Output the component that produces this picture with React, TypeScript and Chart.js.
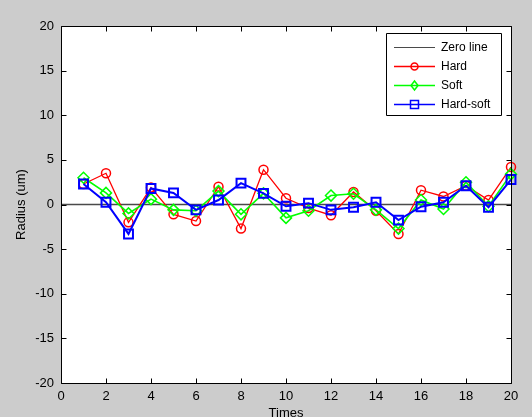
import React, { useEffect, useRef } from "react";
import { Chart, registerables } from "chart.js";

Chart.register(...registerables);

const times = [1, 2, 3, 4, 5, 6, 7, 8, 9, 10, 11, 12, 13, 14, 15, 16, 17, 18, 19, 20];
const hard = [2.3, 3.5, -2.0, 1.9, -1.1, -1.85, 2.0, -2.7, 3.9, 0.7, -0.4, -1.2, 1.4, -0.7, -3.3, 1.6, 0.9, 2.1, 0.5, 4.2];
const soft = [3.0, 1.3, -1.0, 0.6, -0.6, -0.7, 1.5, -1.1, 1.25, -1.5, -0.7, 1.0, 1.2, -0.6, -2.7, 0.5, -0.5, 2.5, -0.2, 3.4];
const hardSoft = [2.3, 0.25, -3.3, 1.8, 1.3, -0.6, 0.5, 2.4, 1.25, -0.2, 0.15, -0.6, -0.3, 0.25, -1.75, -0.25, 0.25, 2.1, -0.3, 2.8];
const zeroLineX = [0, 20];
const xTicks = [0, 2, 4, 6, 8, 10, 12, 14, 16, 18, 20];
const yTicks = [-20, -15, -10, -5, 0, 5, 10, 15, 20];
const legendLabels = ["Zero line", "Hard", "Soft", "Hard-soft"];

const FONT = "'Liberation Sans', Arial, sans-serif";

function drawMarker(ctx: CanvasRenderingContext2D, style: string, x: number, y: number) {
  ctx.beginPath();
  if (style === "circle") {
    ctx.arc(x, y, 3.5, 0, Math.PI * 2);
  } else if (style === "rectRot") {
    ctx.moveTo(x, y - 4.5);
    ctx.lineTo(x + 3.5, y);
    ctx.lineTo(x, y + 4.5);
    ctx.lineTo(x - 3.5, y);
    ctx.closePath();
  } else if (style === "rect") {
    ctx.rect(x - 4, y - 4, 8, 8);
  }
  ctx.stroke();
}

const boxPlugin = {
  id: "matlabBox",
  beforeDraw(chart: any) {
    const { ctx, chartArea: a, width, height } = chart;
    ctx.save();
    ctx.fillStyle = "#cccccc";
    ctx.fillRect(0, 0, width, height);
    ctx.fillStyle = "#ffffff";
    ctx.fillRect(a.left, a.top, a.right - a.left, a.bottom - a.top);
    ctx.restore();
  },
  afterDatasetsDraw(chart: any) {
    const { ctx, chartArea: a, scales } = chart;
    ctx.save();
    ctx.strokeStyle = "#000";
    ctx.lineWidth = 1;
    ctx.beginPath();
    const L = Math.round(a.left) + 0.5, R = Math.round(a.right) + 0.5;
    const T = Math.round(a.top) + 0.5, B = Math.round(a.bottom) + 0.5;
    ctx.rect(L, T, R - L, B - T);
    const tl = 5;
    xTicks.forEach((v) => {
      const px = Math.round(scales.x.getPixelForValue(v)) + 0.5;
      ctx.moveTo(px, B); ctx.lineTo(px, B - tl);
      ctx.moveTo(px, T); ctx.lineTo(px, T + tl);
    });
    yTicks.forEach((v) => {
      const py = Math.round(scales.y.getPixelForValue(v)) + 0.5;
      ctx.moveTo(L, py); ctx.lineTo(L + tl, py);
      ctx.moveTo(R, py); ctx.lineTo(R - tl, py);
    });
    ctx.stroke();

    // legend
    const lx = 386.5, ly = 33.5, lw = 115, lh = 82;
    ctx.fillStyle = "#fff";
    ctx.fillRect(lx, ly, lw, lh);
    ctx.strokeStyle = "#000";
    ctx.beginPath();
    ctx.rect(lx, ly, lw, lh);
    ctx.stroke();
    const rows = [47, 66, 85, 104];
    const dsList = chart.data.datasets;
    rows.forEach((ry, i) => {
      const ds = dsList[i];
      ctx.strokeStyle = ds.borderColor;
      ctx.lineWidth = i === 0 ? 1 : 1.5;
      ctx.beginPath();
      ctx.moveTo(394, ry + 0.5);
      ctx.lineTo(435, ry + 0.5);
      ctx.stroke();
      if (i > 0) {
        ctx.lineWidth = 1.5;
        drawMarker(ctx, ds.pointStyle, 414.5, ry + 0.5);
      }
      ctx.fillStyle = "#000";
      ctx.font = "12px " + FONT;
      ctx.textAlign = "left";
      ctx.textBaseline = "middle";
      ctx.fillText(legendLabels[i], 441, ry + 1);
    });
    ctx.restore();
  },
};

export default function App() {
  const ref = useRef<HTMLCanvasElement>(null);
  useEffect(() => {
    document.body.style.margin = "0";
    const mk = (ys: number[]) => ys.map((y, i) => ({ x: times[i], y }));
    const chart = new Chart(ref.current!, {
      type: "line",
      data: {
        datasets: [
          {
            label: legendLabels[0],
            data: zeroLineX.map((x) => ({ x, y: 0 })),
            borderColor: "#4a4a4a",
            borderWidth: 1.5,
            pointRadius: 0,
            order: 3,
          },
          {
            label: legendLabels[1],
            data: mk(hard),
            borderColor: "#ff0000",
            borderWidth: 1.3,
            pointStyle: "circle",
            pointRadius: 4.5,
            pointBorderWidth: 1.5,
            pointBackgroundColor: "rgba(0,0,0,0)",
            pointBorderColor: "#ff0000",
            clip: false,
            order: 2,
          },
          {
            label: legendLabels[2],
            data: mk(soft),
            borderColor: "#00ff00",
            borderWidth: 1.6,
            pointStyle: "rectRot",
            pointRadius: 5.5,
            pointBorderWidth: 1.5,
            pointBackgroundColor: "rgba(0,0,0,0)",
            pointBorderColor: "#00ff00",
            clip: false,
            order: 1,
          },
          {
            label: legendLabels[3],
            data: mk(hardSoft),
            borderColor: "#0000ff",
            borderWidth: 2,
            pointStyle: "rect",
            pointRadius: 6.3,
            pointBorderWidth: 2,
            pointBackgroundColor: "rgba(0,0,0,0)",
            pointBorderColor: "#0000ff",
            clip: false,
            order: 0,
          },
        ] as any,
      },
      options: {
        animation: false,
        responsive: false,
        maintainAspectRatio: false,
        layout: { padding: { top: 26, right: 21, bottom: 0, left: 0 } },
        plugins: { legend: { display: false }, tooltip: { enabled: false } },
        elements: { line: { tension: 0 } },
        scales: {
          x: {
            type: "linear",
            min: 0,
            max: 20,
            afterFit: (s: any) => { s.height = 34; },
            afterBuildTicks: (s: any) => { s.ticks = xTicks.map((v) => ({ value: v })); },
            grid: { display: false, drawTicks: false },
            border: { display: false },
            ticks: { color: "#000", padding: 6, font: { family: FONT, size: 13 }, maxRotation: 0 },
            title: {
              display: true,
              text: "Times",
              color: "#000",
              font: { family: FONT, size: 13 },
              padding: { top: 0, bottom: -4 },
            },
          },
          y: {
            type: "linear",
            min: -20,
            max: 20,
            afterFit: (s: any) => { s.width = 61; },
            afterBuildTicks: (s: any) => { s.ticks = yTicks.map((v) => ({ value: v })); },
            grid: { display: false, drawTicks: false },
            border: { display: false },
            ticks: { color: "#000", padding: 7, font: { family: FONT, size: 13 } },
            title: {
              display: true,
              text: "Radius (um)",
              color: "#000",
              font: { family: FONT, size: 13 },
              padding: { top: 14, bottom: 0 },
            },
          },
        },
      },
      plugins: [boxPlugin],
    } as any);
    return () => chart.destroy();
  }, []);
  return (
    <div style={{ width: 532, height: 417, background: "#cccccc" }}>
      <canvas ref={ref} width={532} height={417} style={{ display: "block" }} />
    </div>
  );
}
